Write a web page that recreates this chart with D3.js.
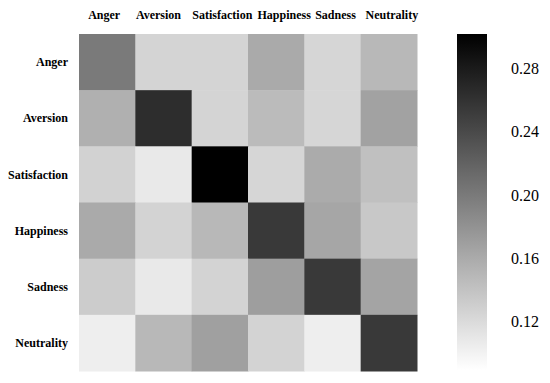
<!DOCTYPE html>
<meta charset="utf-8">
<style>
body { margin: 0; background: #fff; }
text { font-family: "Liberation Serif", "Times New Roman", Times, "DejaVu Serif", serif; }
.lab { font-weight: bold; font-size: 12px; }
.cbar text { font-size: 16px; }
</style>
<body>
<script src="https://cdn.jsdelivr.net/npm/d3@7"></script>
<script>
// emotion categories (rows = true, cols = predicted)
var emotions = ["Anger", "Aversion", "Satisfaction", "Happiness", "Sadness", "Neutrality"];

// one array per row
var anger        = [0.200, 0.125, 0.125, 0.160, 0.123, 0.148];
var aversion     = [0.155, 0.264, 0.125, 0.146, 0.123, 0.167];
var satisfaction = [0.127, 0.107, 0.302, 0.123, 0.159, 0.142];
var happiness    = [0.160, 0.126, 0.148, 0.254, 0.163, 0.135];
var sadness      = [0.132, 0.107, 0.126, 0.170, 0.254, 0.165];
var neutrality   = [0.103, 0.148, 0.168, 0.126, 0.103, 0.254];
var rows = [anger, aversion, satisfaction, happiness, sadness, neutrality];

var colorDomain = [0.089, 0.302];
var ticks = [0.12, 0.16, 0.20, 0.24, 0.28];

// top labels are not exactly centred in the original
var topNudge = [-3, -5, 2.5, 8, 3, 3];

var width = 550, height = 383;

var svg = d3.select("body").append("svg")
    .attr("width", width)
    .attr("height", height);

var x = d3.scaleBand().domain(emotions).range([79, 417]);
var y = d3.scaleBand().domain(emotions).range([34, 371]);

var color = d3.scaleLinear().domain(colorDomain).range(["#ffffff", "#000000"]);

var cells = [];
rows.forEach(function(r, i) {
  r.forEach(function(v, j) {
    cells.push({row: emotions[i], col: emotions[j], value: v});
  });
});

svg.append("g")
  .selectAll("rect")
  .data(cells)
  .enter()
  .append("rect")
  .attr("x", function(d) { return x(d.col); })
  .attr("y", function(d) { return y(d.row); })
  .attr("width", x.bandwidth() + 0.5)
  .attr("height", y.bandwidth() + 0.5)
  .style("fill", function(d) { return color(d.value); });

// column labels on top
svg.append("g")
  .selectAll("text")
  .data(emotions)
  .enter()
  .append("text")
  .attr("class", "lab")
  .attr("x", function(d, i) { return x(d) + x.bandwidth() / 2 + topNudge[i]; })
  .attr("y", 19)
  .attr("text-anchor", "middle")
  .text(function(d) { return d; });

// row labels on the left
svg.append("g")
  .selectAll("text")
  .data(emotions)
  .enter()
  .append("text")
  .attr("class", "lab")
  .attr("x", 68)
  .attr("y", function(d) { return y(d) + y.bandwidth() / 2; })
  .attr("dy", "0.35em")
  .attr("text-anchor", "end")
  .text(function(d) { return d; });

// colorbar
var cy = d3.scaleLinear().domain(colorDomain).range([370, 34]);

var grad = svg.append("defs").append("linearGradient")
  .attr("id", "cgrad")
  .attr("x1", 0).attr("y1", 1).attr("x2", 0).attr("y2", 0);
d3.range(0, 1.01, 0.1).forEach(function(t) {
  grad.append("stop")
    .attr("offset", t)
    .attr("stop-color", color(colorDomain[0] + t * (colorDomain[1] - colorDomain[0])));
});

svg.append("rect")
  .attr("x", 457)
  .attr("y", cy(colorDomain[1]))
  .attr("width", 30)
  .attr("height", cy(colorDomain[0]) - cy(colorDomain[1]))
  .style("fill", "url(#cgrad)");

var cax = svg.append("g")
  .attr("class", "cbar")
  .attr("transform", "translate(487,0)")
  .call(d3.axisRight(cy).tickValues(ticks).tickFormat(d3.format(".2f")).tickSize(0).tickPadding(24));
cax.select(".domain").remove();
cax.attr("font-family", null).attr("font-size", null);
cax.selectAll("text").attr("fill", "#000");
</script>
</body>
